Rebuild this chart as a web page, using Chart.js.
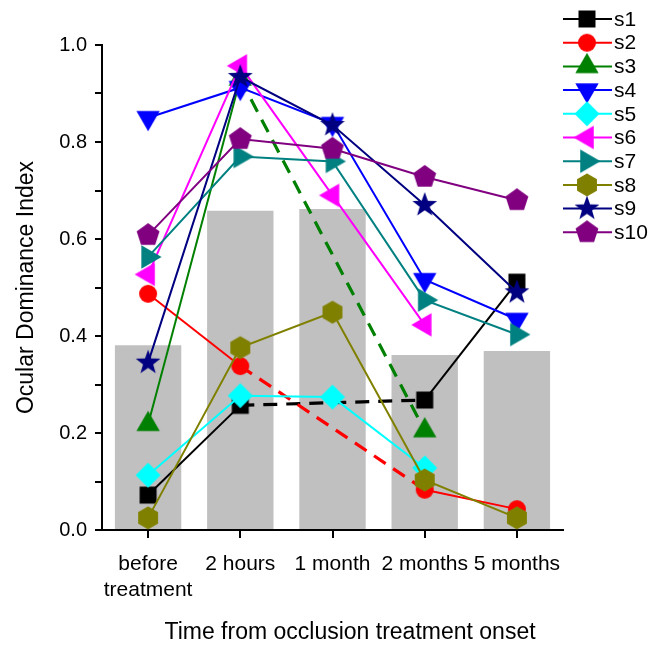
<!DOCTYPE html>
<html>
<head>
<meta charset="utf-8">
<script src="https://cdn.jsdelivr.net/npm/chart.js@4.4.1/dist/chart.umd.min.js"></script>
<style>
  html, body { margin: 0; padding: 0; background: #fff; }
  canvas { display: block; }
</style>
</head>
<body>
<canvas id="odiChart" width="652" height="646"></canvas>
<script>
// categories and values
var categories = [['before', 'treatment'], '2 hours', '1 month', '2 months', '5 months'];
var meanValues = [0.381, 0.658, 0.662, 0.361, 0.369];

var seriesNames = ['s1', 's2', 's3', 's4', 's5', 's6', 's7', 's8', 's9', 's10'];
var s1 = [0.072, 0.257, null, 0.268, 0.511];
var s2 = [0.487, 0.338, null, 0.083, 0.043];
var s3 = [0.218, 0.930, null, 0.205, null];
var s4 = [0.850, 0.912, 0.838, 0.516, 0.434];
var s5 = [0.113, 0.277, 0.274, 0.128, null];
var s6 = [0.527, 0.957, 0.690, 0.423, null];
var s7 = [0.563, 0.770, 0.760, 0.474, 0.403];
var s8 = [0.025, 0.376, 0.449, 0.103, 0.025];
var s9 = [0.345, 0.934, 0.835, 0.670, 0.490];
var s10 = [0.608, 0.806, 0.786, 0.728, 0.680];
var seriesValues = [s1, s2, s3, s4, s5, s6, s7, s8, s9, s10];

var yTicks = ['0.0', '0.2', '0.4', '0.6', '0.8', '1.0'];
var xTitle = 'Time from occlusion treatment onset';

var colors = ['#000000', '#ff0000', '#008000', '#0000ff', '#00ffff',
              '#ff00ff', '#008080', '#808000', '#000080', '#800080'];
var shapes = ['square', 'circle', 'triUp', 'triDown', 'diamond',
              'triLeft', 'triRight', 'hexagon', 'star', 'pentagon'];

var FONT = "'Liberation Sans', Arial, sans-serif";

// build marker images, Origin style
function polygon(g, r, startDeg, n) {
  for (var k = 0; k < n; k++) {
    var a = (startDeg + k * 360 / n) * Math.PI / 180;
    var px = Math.cos(a) * r, py = Math.sin(a) * r;
    if (k === 0) g.moveTo(px, py); else g.lineTo(px, py);
  }
  g.closePath();
}

function makeMarker(shape, color) {
  var c = document.createElement('canvas');
  c.width = 30;
  c.height = 30;
  var g = c.getContext('2d');
  g.translate(15, 15);
  g.fillStyle = color;
  g.beginPath();
  switch (shape) {
    case 'square': g.rect(-8.5, -8.5, 17, 17); break;
    case 'circle': g.arc(0, 0, 9, 0, Math.PI * 2); break;
    case 'triUp': polygon(g, 13.5, -90, 3); break;
    case 'triDown': polygon(g, 13.5, 90, 3); break;
    case 'triLeft': polygon(g, 13.5, 180, 3); break;
    case 'triRight': polygon(g, 13.5, 0, 3); break;
    case 'diamond': polygon(g, 12.5, 0, 4); break;
    case 'hexagon': polygon(g, 11.5, -90, 6); break;
    case 'pentagon': polygon(g, 12, -90, 5); break;
    case 'star':
      for (var k = 0; k < 10; k++) {
        var r = k % 2 === 0 ? 13 : 5.3;
        var a = (-90 + k * 36) * Math.PI / 180;
        if (k === 0) g.moveTo(Math.cos(a) * r, Math.sin(a) * r);
        else g.lineTo(Math.cos(a) * r, Math.sin(a) * r);
      }
      g.closePath();
      break;
  }
  g.fill();
  return c;
}

var markers = shapes.map(function(s, i) { return makeMarker(s, colors[i]); });

function gapDash(ctx, value) {
  return ctx.p0.skip || ctx.p1.skip ? value : undefined;
}

var datasets = seriesNames.map(function(name, i) {
  return {
    type: 'line',
    label: name,
    data: seriesValues[i],
    borderColor: colors[i],
    backgroundColor: colors[i],
    borderWidth: 2,
    pointStyle: markers[i],
    pointRadius: 10,
    spanGaps: true,
    clip: false,
    order: 20 - i,
    segment: {
      borderDash: function(ctx) { return gapDash(ctx, [14, 9]); },
      borderWidth: function(ctx) { return gapDash(ctx, 3.2); }
    }
  };
});

datasets.push({
  type: 'bar',
  label: 'mean',
  data: meanValues,
  backgroundColor: '#c0c0c0',
  borderWidth: 0,
  categoryPercentage: 1,
  barPercentage: 0.72,
  order: 100
});

// legend drawn with line + marker like the original, plus the x title
var sideLegend = {
  id: 'sideLegend',
  afterDraw: function(chart) {
    var ctx = chart.ctx;
    ctx.save();
    ctx.font = '21px ' + FONT;
    ctx.textBaseline = 'middle';
    ctx.textAlign = 'left';
    seriesNames.forEach(function(name, i) {
      var y = 19 + i * 23.7;
      ctx.strokeStyle = colors[i];
      ctx.lineWidth = 2;
      ctx.beginPath();
      ctx.moveTo(563, y);
      ctx.lineTo(612, y);
      ctx.stroke();
      ctx.drawImage(markers[i], 587 - 15, y - 15);
      ctx.fillStyle = '#000';
      ctx.fillText(name, 614, y + 1);
    });
    ctx.font = '23px ' + FONT;
    ctx.textAlign = 'center';
    ctx.fillText(xTitle, 350, 633);
    ctx.restore();
  }
};

Chart.defaults.color = '#000';
Chart.defaults.font.family = FONT;

var ctx = document.getElementById('odiChart').getContext('2d');
var odiChart = new Chart(ctx, {
  type: 'bar',
  data: {
    labels: categories,
    datasets: datasets
  },
  options: {
    responsive: false,
    animation: false,
    devicePixelRatio: 1,
    layout: { padding: { top: 45, right: 89, left: 0, bottom: 0 } },
    plugins: {
      legend: { display: false },
      tooltip: { enabled: false }
    },
    scales: {
      x: {
        offset: true,
        grid: {
          offset: false,
          drawOnChartArea: false,
          drawTicks: true,
          tickLength: 8,
          color: '#000',
          lineWidth: 2
        },
        border: { display: true, color: '#000', width: 2 },
        ticks: {
          autoSkip: false,
          maxRotation: 0,
          padding: 13,
          font: { size: 21, lineHeight: 1.25 }
        },
        title: { display: false },
        afterFit: function(scale) { scale.height = 116; }
      },
      y: {
        min: 0,
        max: 1,
        grid: {
          drawOnChartArea: false,
          drawTicks: true,
          tickLength: 7,
          color: '#000',
          lineWidth: 2
        },
        border: { display: true, color: '#000', width: 2 },
        ticks: {
          stepSize: 0.1,
          padding: 8,
          font: { size: 20 },
          callback: function(value, index) {
            return index % 2 === 0 ? yTicks[index / 2] : '';
          }
        },
        title: {
          display: true,
          text: 'Ocular Dominance Index',
          font: { size: 23 },
          padding: { top: 13, bottom: 0 }
        },
        afterFit: function(scale) { scale.width = 102; }
      }
    }
  },
  plugins: [sideLegend]
});
</script>
</body>
</html>
